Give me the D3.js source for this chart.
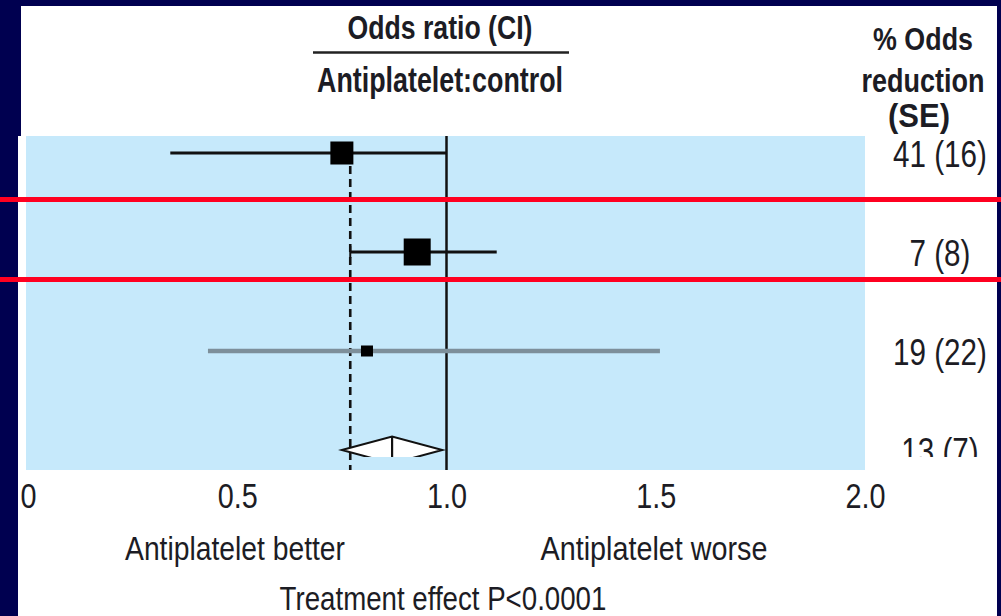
<!DOCTYPE html>
<html>
<head>
<meta charset="utf-8">
<script src="https://cdn.jsdelivr.net/npm/d3@7"></script>
<style>
  html, body { margin: 0; padding: 0; background: #000050; }
  svg { display: block; }
  text { font-family: "Liberation Sans Narrow", "Liberation Sans", Arial, sans-serif; fill: #1c1c24; }
</style>
</head>
<body>
<svg id="chart" width="1001" height="616"></svg>
<script>
// Trial groups (top to bottom) and their % odds reduction (SE)
const rowIds = ["a", "b", "c", "all"];
const rowLabels = ["41 (16)", "7 (8)", "19 (22)", "13 (7)"];

// Odds ratios with confidence limits for the three groups
const orEstimate = [0.75, 0.93, 0.81];
const orLower = [0.34, 0.77, 0.43];
const orUpper = [1.00, 1.12, 1.51];
const boxSize = [23, 27, 12];

// Pooled result (diamond) and the reference dashed line
const pooled = [0.75, 0.87, 0.99];
const dashedRef = 0.77;

const tickValues = [0, 0.5, 1.0, 1.5, 2.0];
const tickLabels = ["0", "0.5", "1.0", "1.5", "2.0"];

const svg = d3.select("#chart");
const W = 1001, H = 616;

const plot = { left: 26, right: 865, top: 136, bottom: 470 };
const x = d3.scaleLinear().domain([0, 2]).range([28, 865]);
const y = d3.scalePoint().domain(rowIds).range([153, 450]);

// page panels
svg.append("rect").attr("x", 0).attr("y", 0).attr("width", W).attr("height", H).attr("fill", "#000050");
svg.append("rect").attr("x", 21).attr("y", 6).attr("width", 976).attr("height", H - 6).attr("fill", "#fff");
svg.append("rect").attr("x", 18).attr("y", 136).attr("width", 10).attr("height", H - 136).attr("fill", "#fff");

const defs = svg.append("defs");
defs.append("clipPath").attr("id", "lowClip")
  .append("rect").attr("x", 0).attr("y", 0).attr("width", W).attr("height", 457);
defs.append("clipPath").attr("id", "panelClip")
  .append("rect").attr("x", 21).attr("y", 0).attr("width", 976).attr("height", H);

// plot background
svg.append("rect")
  .attr("x", plot.left).attr("y", plot.top)
  .attr("width", plot.right - plot.left).attr("height", plot.bottom - plot.top)
  .attr("fill", "#c6e9fb");

// axis: white inner ticks, condensed labels below
const axis = d3.axisBottom(x)
  .tickValues(tickValues)
  .tickFormat((d, i) => tickLabels[i])
  .tickSizeInner(-12).tickSizeOuter(0);
const gAxis = svg.append("g")
  .attr("transform", `translate(0,${plot.bottom})`)
  .attr("clip-path", "url(#panelClip)")
  .call(axis);
gAxis.select(".domain").remove();
gAxis.selectAll(".tick line")
  .attr("stroke", "#fff").attr("stroke-width", 2)
  .attr("display", d => (d === 0 || d === 2) ? "none" : null);
gAxis.selectAll(".tick text")
  .attr("font-size", 36).attr("fill", "#1c1c24")
  .attr("font-family", "Liberation Sans Narrow, Liberation Sans, Arial, sans-serif")
  .attr("dy", 0).attr("y", 38)
  .attr("transform", "scale(0.8,1)");

// line of no effect
svg.append("line")
  .attr("x1", x(1)).attr("x2", x(1))
  .attr("y1", plot.top).attr("y2", plot.bottom)
  .attr("stroke", "#111").attr("stroke-width", 2.5);

// dashed reference line
svg.append("line")
  .attr("x1", x(dashedRef)).attr("x2", x(dashedRef))
  .attr("y1", y("a")).attr("y2", plot.bottom)
  .attr("stroke", "#111").attr("stroke-width", 2.6)
  .attr("stroke-dasharray", "8,5");

// confidence intervals and boxes
const groups = rowIds.slice(0, 3).map((id, i) => ({
  id, est: orEstimate[i], lo: orLower[i], hi: orUpper[i], size: boxSize[i]
}));
const ciColor = ["#111", "#111", "#7d8f9a"];
const ciWidth = [2.8, 2.8, 4.5];

svg.selectAll("line.ci").data(groups).enter().append("line")
  .attr("class", "ci")
  .attr("x1", d => x(d.lo)).attr("x2", d => x(d.hi))
  .attr("y1", d => y(d.id)).attr("y2", d => y(d.id))
  .attr("stroke", (d, i) => ciColor[i]).attr("stroke-width", (d, i) => ciWidth[i]);

// small end cap where the CI of row b starts
svg.append("line")
  .attr("x1", x(groups[1].lo)).attr("x2", x(groups[1].lo))
  .attr("y1", y("b") - 6).attr("y2", y("b") + 6)
  .attr("stroke", "#111").attr("stroke-width", 2);

svg.selectAll("rect.box").data(groups).enter().append("rect")
  .attr("class", "box")
  .attr("x", d => x(d.est) - d.size / 2)
  .attr("y", d => y(d.id) - d.size / 2 + (d.id === "c" ? 0.5 : 0))
  .attr("width", d => d.size)
  .attr("height", d => d.id === "c" ? d.size - 1 : d.size)
  .attr("fill", "#000");

// pooled diamond
const gPool = svg.append("g").attr("clip-path", "url(#lowClip)");
const yp = y("all"), hh = 13.5;
gPool.append("path")
  .attr("d", `M${x(pooled[0])},${yp} L${x(pooled[1])},${yp - hh} L${x(pooled[2])},${yp} L${x(pooled[1])},${yp + hh} Z`)
  .attr("fill", "#fff").attr("stroke", "#111").attr("stroke-width", 2);
gPool.append("line")
  .attr("x1", x(pooled[1])).attr("x2", x(pooled[1]))
  .attr("y1", yp - hh).attr("y2", yp + hh)
  .attr("stroke", "#111").attr("stroke-width", 2.2);

// right column: % odds reduction (condensed)
const gRows = svg.append("g").attr("clip-path", "url(#lowClip)");
gRows.selectAll("g.val").data(rowIds).enter().append("g")
  .attr("class", "val")
  .attr("transform", d => `translate(940,${y(d) + 14}) scale(0.8,1)`)
  .append("text")
  .attr("x", 0).attr("y", 0)
  .attr("text-anchor", "middle").attr("font-size", 37)
  .text((d, i) => rowLabels[i]);

// headers and captions, squeezed horizontally to a target width
function label(parent, txt, cx, baseline, size, width, weight) {
  const g = parent.append("g");
  const t = g.append("text")
    .attr("x", 0).attr("y", 0)
    .attr("text-anchor", "middle")
    .attr("font-size", size)
    .attr("font-weight", weight || "normal")
    .text(txt);
  const natural = t.node().getComputedTextLength();
  g.attr("transform", `translate(${cx},${baseline}) scale(${width / natural},1)`);
}
label(svg, "Odds ratio (CI)", 440, 39, 33, 185, "bold");
svg.append("line")
  .attr("x1", 313).attr("x2", 569).attr("y1", 52.5).attr("y2", 52.5)
  .attr("stroke", "#222").attr("stroke-width", 2.5);
label(svg, "Antiplatelet:control", 440, 92, 36, 246, "bold");
label(svg, "% Odds", 923, 50, 31, 100, "bold");
label(svg, "reduction", 923, 92, 33, 123, "bold");
label(svg, "(SE)", 919, 127, 33, 62, "bold");

label(svg, "Antiplatelet better", 235, 560, 33, 220);
label(svg, "Antiplatelet worse", 654, 560, 33, 227);
label(svg, "Treatment effect P<0.0001", 443, 610, 33, 327);

// red highlight rules
svg.selectAll("line.rule").data([199.5, 279.5]).enter().append("line")
  .attr("class", "rule")
  .attr("x1", 0).attr("x2", W).attr("y1", d => d).attr("y2", d => d)
  .attr("stroke", "#ff0020").attr("stroke-width", 5);
</script>
</body>
</html>
